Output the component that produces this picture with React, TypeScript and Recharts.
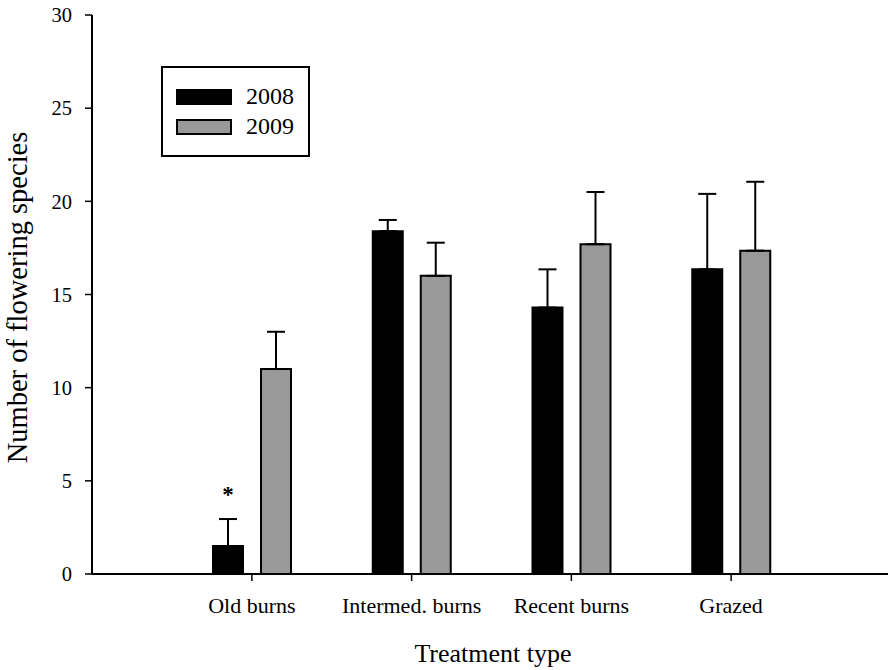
import React from 'react';
import { BarChart, Bar, XAxis, YAxis, ErrorBar, Legend, LabelList } from 'recharts';

const categories = ['Old burns', 'Intermed. burns', 'Recent burns', 'Grazed'];
const mean2008 = [1.5, 18.4, 14.3, 16.35];
const se2008 = [1.45, 0.6, 2.05, 4.05];
const mean2009 = [11.0, 16.0, 17.7, 17.35];
const se2009 = [2.0, 1.78, 2.8, 3.7];
const marks2008 = ['*', '', '', ''];
const yTicks = [0, 5, 10, 15, 20, 25, 30];

const data = categories.map((name, i) => ({
  name,
  y2008: mean2008[i],
  e2008: [0, se2008[i]],
  m2008: marks2008[i],
  y2009: mean2009[i],
  e2009: [0, se2009[i]]
}));

const font = '"Liberation Serif", "Times New Roman", serif';

function renderMark(props: any) {
  const { index, value } = props;
  if (!value) return null;
  const vb = props.viewBox || props;
  const { x, y, width, height } = vb;
  const perUnit = height / mean2008[index];
  const top = y - se2008[index] * perUnit;
  return <text x={x + width / 2} y={top - 17} textAnchor="middle" fontSize={23} fontWeight="bold" fontFamily={font} fill="#000">
      {value}
    </text>;
}

function renderLegend(props: any) {
  const { payload } = props;
  return <div style={{
    width: 149,
    height: 91,
    boxSizing: 'border-box',
    border: '2px solid #000',
    background: '#fff',
    position: 'relative',
    fontFamily: font
  }}>
      {(payload || []).map((p: any, i: number) => <div key={i} style={{ position: 'absolute', left: 13, top: 20 + i * 30, height: 17, display: 'flex', alignItems: 'center' }}>
          <div style={{ width: 56, height: 16, boxSizing: 'border-box', background: p.color, border: '2px solid #000' }} />
          <span style={{ marginLeft: 14, fontSize: 24, lineHeight: '17px', color: '#000' }}>{p.value}</span>
        </div>)}
    </div>;
}

export default function App() {
  return <div style={{ position: 'absolute', left: 0, top: 0, background: '#fff' }}>
      <BarChart width={889} height={670} data={data} margin={{ top: 15, right: 1, left: 0, bottom: 0 }} barGap={18} barSize={30}>
        <XAxis dataKey="name" height={96} padding={{ left: 80, right: 77 }} axisLine={{ stroke: '#000', strokeWidth: 2 }} tickLine={{ stroke: '#000', strokeWidth: 1.5 }} tickSize={7} tickMargin={16} tick={{ fill: '#000', fontSize: 22, fontFamily: font }} label={{ value: 'Treatment type', position: 'insideBottom', offset: 8, dx: 3, fill: '#000', fontSize: 26, fontFamily: font }} />
        <YAxis domain={[0, 30]} ticks={yTicks} width={92} axisLine={{ stroke: '#000', strokeWidth: 2 }} tickLine={{ stroke: '#000', strokeWidth: 1.5 }} tickSize={7} tickMargin={13} tick={{ fill: '#000', fontSize: 20.5, fontFamily: font }} label={{ value: 'Number of flowering species', angle: -90, position: 'insideLeft', offset: 17, dy: 3, style: { textAnchor: 'middle' }, fill: '#000', fontSize: 28.5, fontFamily: font }} />
        <Legend layout="vertical" align="center" verticalAlign="middle" content={renderLegend} wrapperStyle={{ position: 'absolute', left: 161, top: 66, width: 149, height: 91 }} />
        <Bar dataKey="y2008" name="2008" fill="#000" stroke="#000" strokeWidth={2} isAnimationActive={false}>
          <ErrorBar dataKey="e2008" width={9} stroke="#000" strokeWidth={2} direction="y" />
          <LabelList dataKey="m2008" content={renderMark} />
        </Bar>
        <Bar dataKey="y2009" name="2009" fill="#999999" stroke="#000" strokeWidth={2} isAnimationActive={false}>
          <ErrorBar dataKey="e2009" width={9} stroke="#000" strokeWidth={2} direction="y" />
        </Bar>
      </BarChart>
    </div>;
}
